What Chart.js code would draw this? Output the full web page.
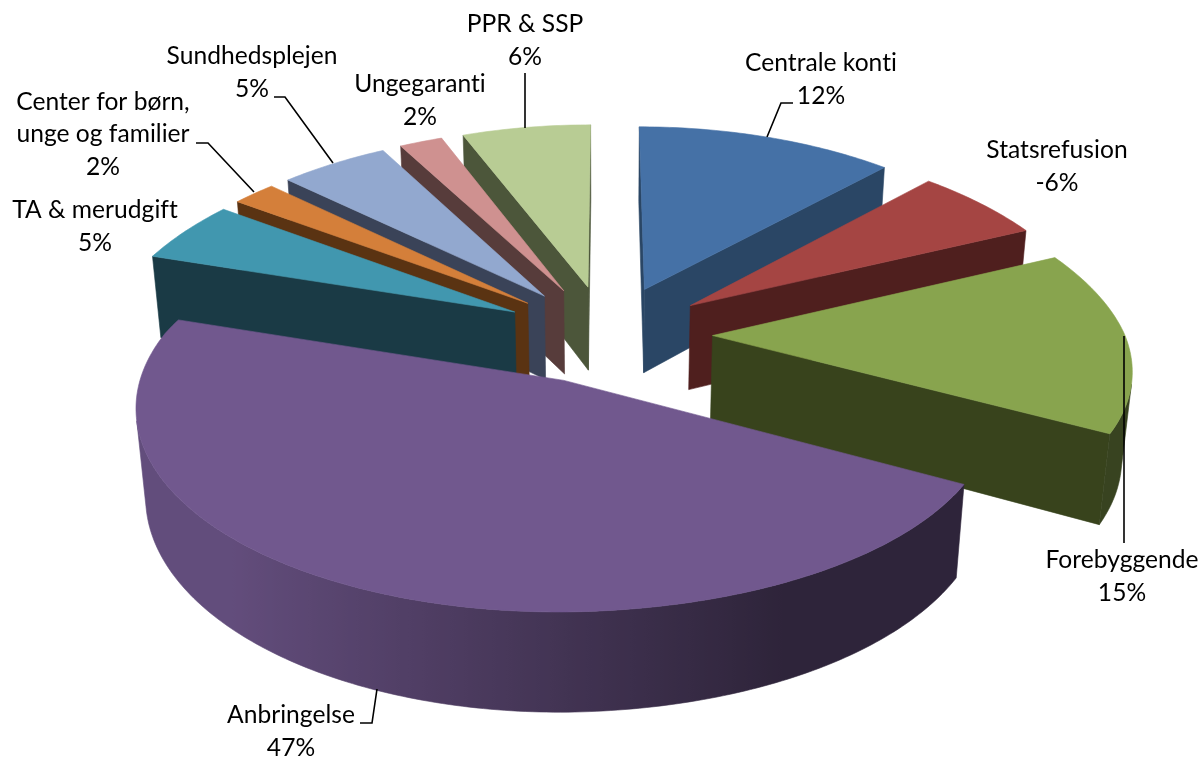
<!DOCTYPE html>
<html>
<head>
<meta charset="utf-8">
<style>html,body{margin:0;padding:0;background:#fff}canvas{display:block}</style>
<script src="https://cdn.jsdelivr.net/npm/chart.js@4"></script>
</head>
<body>
<canvas id="c" width="1202" height="758"></canvas>
<script>
const categories = ['Centrale konti','Statsrefusion','Forebyggende','Anbringelse','TA & merudgift','Center for børn,\nunge og familier','Sundhedsplejen','Ungegaranti','PPR & SSP'];
const sliceValues = [12,6,15,47,5,2,5,2,6];
const shownPercent = ['12%','-6%','15%','47%','5%','2%','5%','2%','6%'];
const topColors = ['#4571A6','#A54543','#88A44E','#71588E','#4197AF','#D47F3A','#92A8CF','#CF9190','#B8CC94'];
const wallColors = ['#2A4665','#4F1F1E','#38431C','#4A3A60','#1A3A45','#5A3312','#3A4358','#573C3B','#4C563A'];
const sliceOffset = 86;

const camera = {cx:607, cy:334, rx:412, ry:192, perspXFar:0.162, perspXNearRight:0.148, perspXNearLeft:0.12, perspY:0.119, depth:85.5, zPersp:0.02};
const labelPos = [[821,63],[1057,150],[1122,560],[291,715],[95,210],[103,102],[252,56],[420,84],[525,24]];
const leaders = [
  [[793,103],[781,103],[767,137]],
  null,
  [[1124,336],[1124,543]],
  [[360,723],[372,723],[377,689]],
  null,
  [[196,143],[208,143],[254,192]],
  [[274,97],[285,97],[333,163]],
  null,
  [[525,73],[525,128]]
];

function project(u,v,z){
  const px = v>0 ? camera.perspXFar : (u<0 ? camera.perspXNearLeft : camera.perspXNearRight);
  const dx = 1 + px*v + camera.zPersp*z;
  const dy = 1 + camera.perspY*v;
  return [camera.cx + camera.rx*u/dx, camera.cy - camera.ry*v/dy + camera.depth*z/dy];
}
function shade(hex,f){
  const n = parseInt(hex.slice(1),16);
  return `rgb(${Math.round((n>>16&255)*f)},${Math.round((n>>8&255)*f)},${Math.round((n&255)*f)})`;
}
function fillPoly(ctx,pts,color){
  ctx.beginPath();
  pts.forEach((p,i)=> i?ctx.lineTo(p[0],p[1]):ctx.moveTo(p[0],p[1]));
  ctx.closePath();
  ctx.fillStyle=color; ctx.strokeStyle=color; ctx.lineWidth=0.6;
  ctx.fill(); ctx.stroke();
}
function area(p){
  let a=0;
  for(let i=0;i<p.length;i++){const q=p[(i+1)%p.length]; a+=p[i][0]*q[1]-q[0]*p[i][1];}
  return a/2;
}
const pie3d = {
  id:'pie3d',
  beforeDatasetDraw(chart){
    const ctx = chart.ctx, meta = chart.getDatasetMeta(0);
    const slices = meta.data.map((el,i)=>{
      const a0 = el.startAngle+Math.PI/2, a1 = el.endAngle+Math.PI/2, m=(a0+a1)/2;
      const e = el.options.offset/el.outerRadius;
      return {i,a0,a1,ou:e*Math.sin(m),ov:e*Math.cos(m)};
    }).sort((a,b)=>b.ov-a.ov);
    for(const s of slices){
      const pt=(r,a,z)=>project(s.ou+r*Math.sin(a), s.ov+r*Math.cos(a), z);
      const n=Math.max(8,Math.ceil((s.a1-s.a0)/0.015));
      for(const a of [s.a0,s.a1]){
        const q=a===s.a0?[pt(0,a,0),pt(1,a,0),pt(1,a,1),pt(0,a,1)]:[pt(1,a,0),pt(0,a,0),pt(0,a,1),pt(1,a,1)];
        if(area(q)<0) fillPoly(ctx,q,wallColors[s.i]);
      }
      const up=[],down=[],stops=[];
      for(let k=0;k<n;k++){
        const a=s.a0+(s.a1-s.a0)*k/n, b=s.a0+(s.a1-s.a0)*(k+1)/n;
        const q=[pt(1,a,0),pt(1,a,1),pt(1,b,1),pt(1,b,0)];
        if(area(q)>0){
          if(!up.length){up.push(q[0]);down.push(q[1]);}
          up.push(q[3]);down.push(q[2]);
          stops.push([(q[0][0]+q[3][0])/2,Math.min(0.87,Math.max(0.41,0.59-0.4*Math.sin((a+b)/2)))]);
        }
      }
      if(up.length){
        const xs=stops.map(t=>t[0]), lo=Math.min(...xs), hi=Math.max(...xs);
        const g=ctx.createLinearGradient(lo,0,hi,0);
        stops.forEach(t=>g.addColorStop(hi>lo?(t[0]-lo)/(hi-lo):0,shade(topColors[s.i],t[1])));
        fillPoly(ctx,up.concat(down.reverse()),g);
      }
      const top=[pt(0,s.a0,0)];
      for(let k=0;k<=n;k++) top.push(pt(1,s.a0+(s.a1-s.a0)*k/n,0));
      fillPoly(ctx,top,topColors[s.i]);
    }
    return false;
  },
  afterDatasetsDraw(chart){
    const ctx=chart.ctx;
    ctx.save();
    ctx.strokeStyle='#000'; ctx.lineWidth=1.6; ctx.lineJoin='miter';
    leaders.forEach(l=>{
      if(!l) return;
      ctx.beginPath();
      l.forEach((p,i)=> i?ctx.lineTo(p[0],p[1]):ctx.moveTo(p[0],p[1]));
      ctx.stroke();
    });
    ctx.fillStyle='#000'; ctx.textAlign='center'; ctx.textBaseline='middle';
    ctx.font='24.6px Lato';
    ctx.letterSpacing='0.02px';
    categories.forEach((c,i)=>{
      const lines=c.split('\n').concat(shownPercent[i]);
      const step=i===5?32.5:33;
      lines.forEach((t,j)=>ctx.fillText(t,labelPos[i][0],labelPos[i][1]+j*step));
    });
    ctx.restore();
  }
};
new Chart(document.getElementById('c'),{
  type:'pie',
  data:{labels:categories,datasets:[{data:sliceValues,backgroundColor:topColors,borderWidth:0,offset:sliceOffset}]},
  options:{responsive:false,animation:false,plugins:{legend:{display:false},tooltip:{enabled:false}}},
  plugins:[pie3d]
});
</script>
</body>
</html>
